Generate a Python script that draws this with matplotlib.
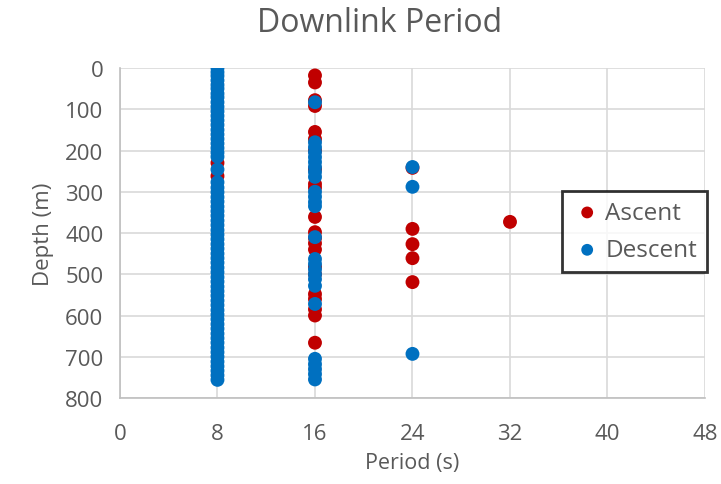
import matplotlib.pyplot as plt

# period (s) -> depths (m)
ascent_period = [8, 8,
                 16, 16, 16, 16, 16, 16, 16, 16, 16, 16, 16, 16, 16, 16, 16, 16, 16, 16, 16, 16, 16, 16,
                 24, 24, 24, 24, 24,
                 32]
ascent_depth = [230, 262,
                18, 35, 78, 92, 155, 172, 200, 245, 281, 290, 361, 398, 412, 425, 440, 482, 500,
                548, 560, 585, 600, 666,
                242, 390, 427, 461, 519,
                373]

descent_depth_8 = [0, 10, 19, 30, 41, 50, 62, 71, 83, 94, 105, 116, 127, 138, 150, 161, 172,
                   183, 194, 205, 215, 246, 277, 290, 301, 313, 324, 336, 347, 358, 370, 381,
                   393, 404, 415, 427, 438, 450, 461, 472, 484, 495, 507, 518, 530, 541, 552,
                   564, 575, 587, 598, 609, 621, 632, 644, 655, 666, 678, 689, 700, 712, 723,
                   734, 745, 756]
descent_depth_16 = [83, 180, 192, 204, 216, 228, 240, 252, 264, 300, 312, 325, 335, 410,
                    463, 475, 488, 500, 512, 528, 572, 705, 718, 730, 742, 755]
descent_depth_24 = [240, 288, 693]

descent_period = [8] * len(descent_depth_8) + [16] * len(descent_depth_16) + [24] * len(descent_depth_24)
descent_depth = descent_depth_8 + descent_depth_16 + descent_depth_24

RED = '#C00000'
BLUE = '#0070C0'
TXT = '#595959'

plt.rcParams['font.family'] = ['Open Sans', 'DejaVu Sans']

fig = plt.figure(figsize=(7.21, 4.85), dpi=100)
ax = fig.add_axes([0.1664, 0.1773, 0.8114, 0.6804])

ax.scatter(ascent_period, ascent_depth, s=100, c=RED, edgecolors='none', label='Ascent', zorder=3)
ax.scatter(descent_period, descent_depth, s=100, c=BLUE, edgecolors='none', label='Descent', zorder=4)

ax.set_xlim(0, 48)
ax.set_ylim(800, 0)
ax.set_xticks(range(0, 49, 8))
ax.set_yticks(range(0, 801, 100))
ax.grid(True, color='#D9D9D9', linewidth=1.2)
ax.set_axisbelow(True)
for s in ['top', 'right']:
    ax.spines[s].set_visible(False)
for s in ['left', 'bottom']:
    ax.spines[s].set_color('#BFBFBF')
    ax.spines[s].set_linewidth(1.2)
ax.tick_params(length=0, labelsize=16, labelcolor=TXT)
ax.tick_params(axis='y', pad=12)
ax.tick_params(axis='x', pad=18)

fig.suptitle('Downlink Period', x=0.527, y=0.985, va='top', fontsize=23, color=TXT)
ax.set_xlabel('Period (s)', fontsize=15.5, color=TXT, labelpad=6)
ax.set_ylabel('Depth (m)', fontsize=16, color=TXT, labelpad=8)

leg = ax.legend(loc='upper left', bbox_to_anchor=(0.755, 0.627), fontsize=17.5, frameon=True,
                fancybox=False, markerscale=0.85, handletextpad=0.1, borderpad=0.4,
                labelspacing=0.55, handlelength=1.3, borderaxespad=0)
leg.get_frame().set_edgecolor('black')
leg.get_frame().set_linewidth(2)
for t in leg.get_texts():
    t.set_color(TXT)

fig.savefig('out.png', dpi=100)
